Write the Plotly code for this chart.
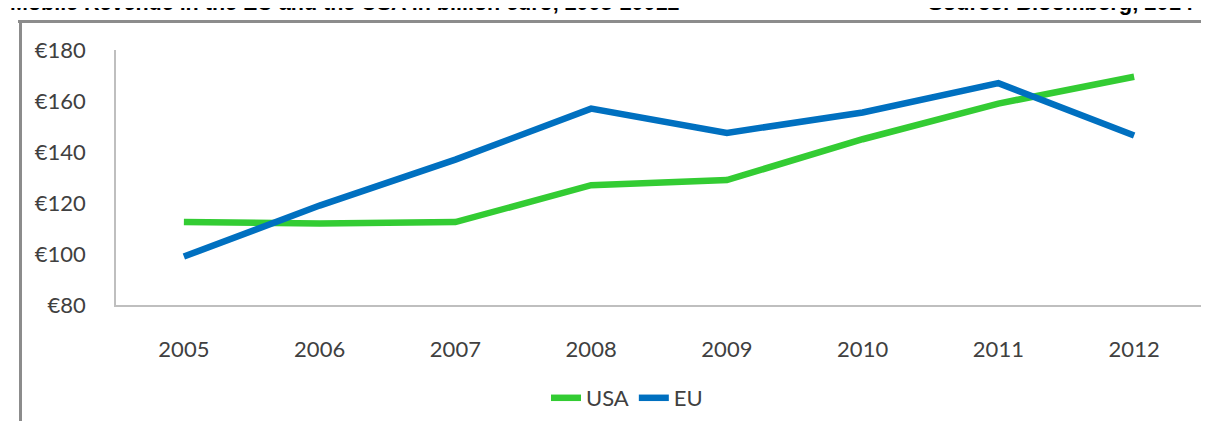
import plotly.graph_objects as go

years = ["2005", "2006", "2007", "2008", "2009", "2010", "2011", "2012"]
usa = [112.5, 112, 112.5, 127, 129, 145, 159, 169.5]
eu = [99, 119, 137, 157, 147.5, 155.5, 167, 146.5]
y_ticks = [80, 100, 120, 140, 160, 180]
y_tick_labels = ["&#8364;" + str(v) for v in y_ticks]

title_text = "Mobile Revenue in the EU and the USA in billion euro, 2005-20012"
source_text = "Source: Bloomberg, 2014"

GREEN = "#33CC33"
BLUE = "#0070C0"
FONT = "Lato"

fig = go.Figure()
fig.add_trace(go.Scatter(x=years, y=usa, mode="lines", name="USA",
                         line=dict(color=GREEN, width=6.5)))
fig.add_trace(go.Scatter(x=years, y=eu, mode="lines", name="EU",
                         line=dict(color=BLUE, width=6.5)))

W, H = 1209, 421
L, R, T, B = 108, 15, 42, 123
pw, ph = W - L - R, H - T - B

def px(x):
    return (x - L) / pw

def py(y):
    return (H - B - y) / ph

fig.update_layout(
    width=W, height=H,
    margin=dict(l=L, r=R, t=T, b=B, pad=0),
    paper_bgcolor="white", plot_bgcolor="white",
    font=dict(family=FONT, size=22, color="#404040"),
    showlegend=True,
    legend=dict(orientation="h", x=px(619), xanchor="center", y=py(390), yanchor="middle",
                font=dict(family=FONT, size=22, color="#404040"),
                itemwidth=30, tracegroupgap=0, bgcolor="rgba(0,0,0,0)"),
    xaxis=dict(type="category", range=[-0.5, 7.5], showgrid=False, zeroline=False,
               showline=True, linecolor="#BFBFBF", linewidth=1.5, ticks="",
               ticklabelstandoff=24, tickfont=dict(family=FONT, size=22, color="#404040"),
               fixedrange=True),
    yaxis=dict(range=[80, 180], tickmode="array", tickvals=y_ticks, ticktext=y_tick_labels,
               showgrid=False, zeroline=False, showline=True, linecolor="#BFBFBF",
               linewidth=1.5, ticks="", ticklabelstandoff=24,
               tickfont=dict(family=FONT, size=22, color="#404040"), fixedrange=True),
)

# frame lines
fig.add_shape(type="line", xref="paper", yref="paper", x0=px(10), x1=px(1212),
              y0=py(13.5), y1=py(13.5), line=dict(color="#8C8C8C", width=3), layer="above")
fig.add_shape(type="line", xref="paper", yref="paper", x0=px(12.5), x1=px(12.5),
              y0=py(13.5), y1=py(425), line=dict(color="#8C8C8C", width=3), layer="above")

# title and source, clipped at the top edge as in the reference
fig.add_annotation(text="<b>" + title_text + "</b>", xref="paper", yref="paper",
                   x=px(0), xanchor="left", y=py(9), yanchor="bottom", showarrow=False,
                   font=dict(family="Liberation Sans", size=21.5, color="#000000"))
fig.add_annotation(text="<b>" + source_text + "</b>", xref="paper", yref="paper",
                   x=px(1188), xanchor="right", y=py(9), yanchor="bottom", showarrow=False,
                   font=dict(family="Liberation Sans", size=22, color="#000000"))

fig.write_html("out.html")
